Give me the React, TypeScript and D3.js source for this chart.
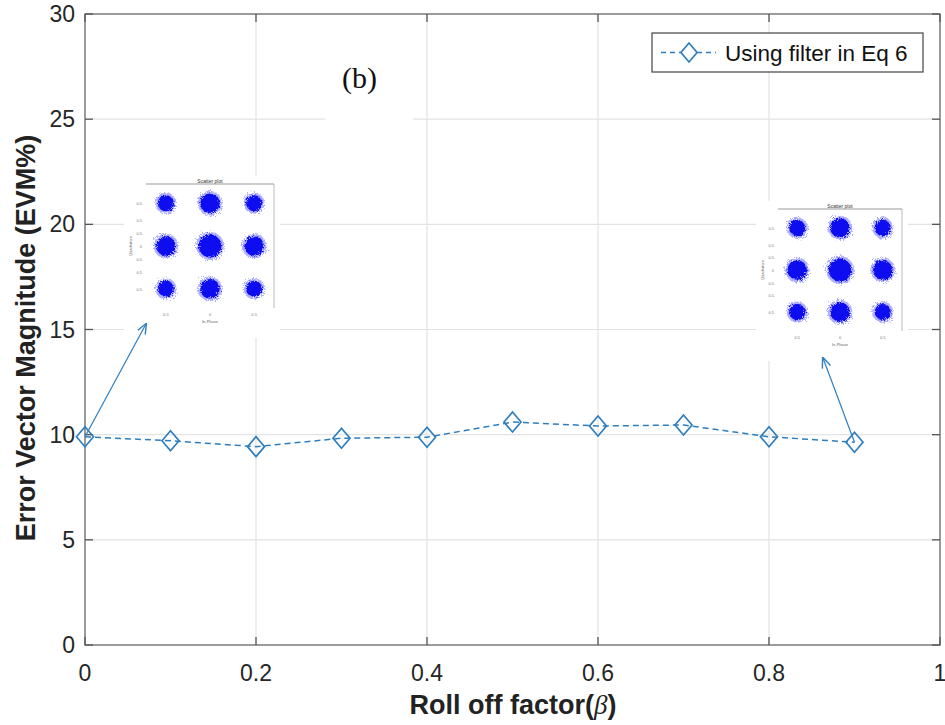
import React from "react";
import * as d3 from "d3";

const rollOff = [0, 0.1, 0.2, 0.3, 0.4, 0.5, 0.6, 0.7, 0.8, 0.9];
const evm = [9.9, 9.71, 9.43, 9.83, 9.88, 10.6, 10.41, 10.46, 9.9, 9.64];
const xTicks = [0, 0.2, 0.4, 0.6, 0.8, 1];
const yTicks = [0, 5, 10, 15, 20, 25, 30];
const legendLabel = "Using filter in Eq 6";

// constellation cluster positions (normalized -1,0,1)
const constPos = [-1, 0, 1];

const W = 945, H = 725;
const m = { left: 85, right: 940, top: 14, bottom: 645 };
const x = d3.scaleLinear().domain([0, 1]).range([m.left, m.right]);
const y = d3.scaleLinear().domain([0, 30]).range([m.bottom, m.top]);
const blue = "#2e7ebf";

function Inset({ x0, y0, w, h, r }: { x0: number; y0: number; w: number; h: number; r: number }) {
  const cx = d3.scaleLinear().domain([-1.45, 1.45]).range([x0, x0 + w]);
  const cy = d3.scaleLinear().domain([-1.45, 1.45]).range([y0 + h, y0]);
  const items: any[] = [];
  constPos.forEach((a) =>
    constPos.forEach((b) => {
      const rr = r * (a === 0 && b === 0 ? 1.35 : a === 0 || b === 0 ? 1.15 : 0.95);
      items.push(
        <g key={`${a}_${b}`}>
          <circle cx={cx(a)} cy={cy(b)} r={rr + 2.5} fill="#5050ff" opacity={0.45} filter="url(#roughf2)" />
          <circle cx={cx(a)} cy={cy(b)} r={rr} fill="#1010f0" filter="url(#roughf)" />
        </g>
      );
    })
  );
  return (
    <g>
      <rect x={x0 - 22} y={y0 - 8} width={w + 28} height={h + 38} fill="#fff" />
      <line x1={x0} x2={x0 + w} y1={y0} y2={y0} stroke="#999" strokeWidth={1} />
      <line x1={x0 + w} x2={x0 + w} y1={y0} y2={y0 + h} stroke="#bbb" strokeWidth={1} />
      <text x={x0 + w / 2} y={y0 - 1} fontSize={5} fontFamily="Arial" textAnchor="middle" fill="#333">Scatter plot</text>
      {items}
      {[-1, -0.6, -0.3, 0, 0.3, 0.6, 1].map((t) => (
        <text key={t} x={x0 - 4} y={cy(t) + 2} fontSize={4} fontFamily="Arial" textAnchor="end" fill="#777">{t === 0 ? "0" : "0.5"}</text>
      ))}
      {[-1, 0, 1].map((t) => (
        <text key={t} x={cx(t)} y={y0 + h + 8} fontSize={4} fontFamily="Arial" textAnchor="middle" fill="#777">{t === 0 ? "0" : "0.5"}</text>
      ))}
      <text x={x0 + w / 2} y={y0 + h + 15} fontSize={4} fontFamily="Arial" textAnchor="middle" fill="#666">In-Phase</text>
      <text transform={`translate(${x0 - 14},${y0 + h / 2}) rotate(-90)`} fontSize={4} fontFamily="Arial" textAnchor="middle" fill="#666">Quadrature</text>
    </g>
  );
}

export default function App() {
  const line = d3.line<number>().x((_, i) => x(rollOff[i])).y((d) => y(d));
  const diamond = (cx: number, cy: number, s = 10) =>
    `M${cx},${cy - s}L${cx + s * 0.85},${cy}L${cx},${cy + s}L${cx - s * 0.85},${cy}Z`;
  const font = "Arial, Liberation Sans, Helvetica";
  return (
    <svg width={W} height={H} style={{ position: "absolute", left: 0, top: 0, background: "#fff" }}>
      <defs>
        <filter id="roughf" x="-30%" y="-30%" width="160%" height="160%">
          <feTurbulence type="fractalNoise" baseFrequency="1.2" numOctaves={2} seed={3} result="n" />
          <feDisplacementMap in="SourceGraphic" in2="n" scale={6} />
        </filter>
        <filter id="roughf2" x="-40%" y="-40%" width="180%" height="180%">
          <feTurbulence type="fractalNoise" baseFrequency="1.6" numOctaves={2} seed={7} result="n" />
          <feDisplacementMap in="SourceGraphic" in2="n" scale={8} />
        </filter>
        <marker id="arr" viewBox="0 0 10 10" refX={9} refY={5} markerWidth={9} markerHeight={9} orient="auto">
          <path d="M0,1L10,5L0,9" fill="none" stroke={blue} strokeWidth={1.3} />
        </marker>
      </defs>
      <rect width={W} height={H} fill="#fff" />
      {/* grid */}
      {xTicks.slice(1, -1).map((t) => (
        <line key={t} x1={x(t)} x2={x(t)} y1={m.top} y2={m.bottom} stroke="#e3e3e3" strokeWidth={1.2} />
      ))}
      {yTicks.slice(1, -1).map((t) => (
        <line key={t} x1={m.left} x2={m.right} y1={y(t)} y2={y(t)} stroke="#e3e3e3" strokeWidth={1.2} />
      ))}
      <rect x={325} y={100} width={88} height={30} fill="#fff" />
      {/* axes box */}
      <rect x={m.left} y={m.top} width={m.right - m.left} height={m.bottom - m.top} fill="none" stroke="#666" strokeWidth={1.3} />
      {xTicks.map((t) => (
        <g key={t}>
          <line x1={x(t)} x2={x(t)} y1={m.bottom} y2={m.bottom - 8} stroke="#555" strokeWidth={1.3} />
          <line x1={x(t)} x2={x(t)} y1={m.top} y2={m.top + 8} stroke="#555" strokeWidth={1.3} />
          <text x={x(t)} y={m.bottom + 36} fontSize={23} fontFamily={font} textAnchor="middle" fill="#262626">{t}</text>
        </g>
      ))}
      {yTicks.map((t) => (
        <g key={t}>
          <line x1={m.left} x2={m.left + 8} y1={y(t)} y2={y(t)} stroke="#555" strokeWidth={1.3} />
          <line x1={m.right} x2={m.right - 8} y1={y(t)} y2={y(t)} stroke="#555" strokeWidth={1.3} />
          <text x={m.left - 10} y={y(t) + 8} fontSize={23} fontFamily={font} textAnchor="end" fill="#262626">{t}</text>
        </g>
      ))}
      {/* insets */}
      <Inset x0={146} y0={184} w={128} h={124} r={8.5} />
      <Inset x0={778} y0={209} w={124} h={122} r={8.5} />
      {/* arrows */}
      <line x1={x(0)} y1={y(evm[0])} x2={146} y2={324} stroke={blue} strokeWidth={1.2} markerEnd="url(#arr)" />
      <line x1={x(0.9)} y1={y(evm[9])} x2={823} y2={358} stroke={blue} strokeWidth={1.2} markerEnd="url(#arr)" />
      {/* series */}
      <path d={line(evm) || ""} fill="none" stroke={blue} strokeWidth={1.5} strokeDasharray="6,4" />
      {evm.map((v, i) => (
        <path key={i} d={diamond(x(rollOff[i]), y(v))} fill="none" stroke={blue} strokeWidth={1.7} />
      ))}
      {/* legend */}
      <rect x={652} y={33} width={271} height={39} fill="#fff" stroke="#444" strokeWidth={1.2} />
      <line x1={661} x2={716} y1={52.5} y2={52.5} stroke={blue} strokeWidth={1.5} strokeDasharray="5,4" />
      <path d={diamond(689, 52.5, 9.5)} fill="#fff" stroke={blue} strokeWidth={1.7} />
      <text x={725} y={60.5} fontSize={22.5} fontFamily={font} fill="#111">{legendLabel}</text>
      {/* (b) */}
      <text x={342} y={88} fontSize={30} fontFamily="Times New Roman, Liberation Serif" fill="#111">(b)</text>
      {/* axis labels */}
      <text x={513} y={714} fontSize={27} fontWeight="bold" fontFamily={font} textAnchor="middle" fill="#222">
        Roll off factor(<tspan fontStyle="italic" fontWeight="normal" fontFamily="Liberation Serif">β</tspan>)
      </text>
      <text transform={`translate(35,${338}) rotate(-90)`} fontSize={27} fontWeight="bold" fontFamily={font} textAnchor="middle" fill="#222">
        Error Vector Magnitude (EVM%)
      </text>
    </svg>
  );
}
